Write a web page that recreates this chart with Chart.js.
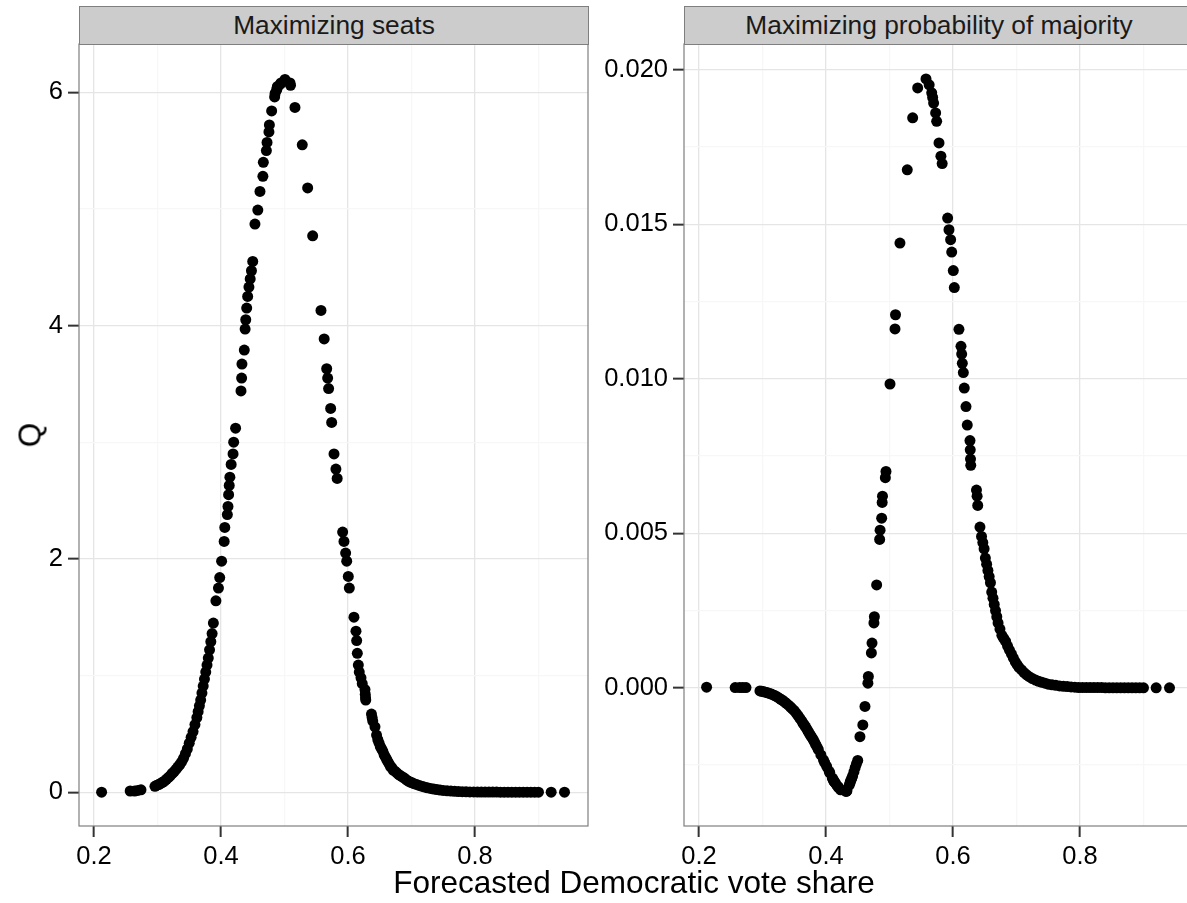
<!DOCTYPE html>
<html><head><meta charset="utf-8">
<script src="https://cdn.jsdelivr.net/npm/chart.js@4.4.1/dist/chart.umd.min.js"></script>
<style>
html,body{margin:0;padding:0;background:#fff;}
#wrap{position:relative;width:1187px;height:903px;overflow:hidden;font-family:"Liberation Sans",Arial,sans-serif;}
canvas{position:absolute;top:0;}
.strip{position:absolute;top:6px;height:39px;background:#cccccc;border:1px solid #7f7f7f;box-sizing:border-box;text-align:center;line-height:36px;font-size:26.3px;color:#1a1a1a;white-space:nowrap;}
#ytitle{position:absolute;left:30px;top:435px;transform:translate(-50%,-50%) rotate(-90deg);font-size:31.5px;color:#000;white-space:nowrap;}
#xtitle{position:absolute;left:634px;top:882px;transform:translate(-50%,-50%);font-size:31.5px;color:#000;white-space:nowrap;}
</style></head>
<body>
<div id="wrap">
<canvas id="c1" width="594" height="903" style="left:0px;width:594px;height:903px"></canvas>
<canvas id="c2" width="605" height="903" style="left:594px;width:605px;height:903px"></canvas>
<div class="strip" style="left:79px;width:510px">Maximizing seats</div>
<div class="strip" style="left:684px;width:510px">Maximizing probability of majority</div>
<div id="ytitle">Q</div>
<div id="xtitle">Forecasted Democratic vote share</div>
</div>
<script>
// ---- data ----
const voteShare = [
0.212,0.257,0.264,0.269,0.274,
0.296,0.299,0.302,0.305,0.308,0.311,0.314,0.317,0.320,0.323,0.326,0.329,0.332,0.335,0.338,0.341,0.344,0.347,0.350,0.353,0.356,0.359,0.362,0.364,0.366,0.368,0.370,0.372,0.374,0.376,0.378,0.380,0.382,0.384,0.386,0.388,
0.392,0.396,0.398,0.401,0.405,0.406,0.410,0.411,0.412,0.413,0.414,0.416,0.419,0.420,0.423,0.4315,0.4325,0.433,0.4367,0.438,0.439,0.4405,0.442,0.444,0.446,0.448,0.450,
0.4535,0.458,0.4614,0.4660,0.4667,0.4715,0.4725,0.4755,0.4762,0.4798,0.4845,0.4852,0.4877,0.4885,0.4890,0.4935,0.4945,0.5008,
0.5087,0.5095,0.5165,0.528,0.5365,0.5444,0.5575,0.5625,0.5665,0.5680,0.5695,0.5727,0.5743,0.578,0.581,0.583,
0.5916,0.5937,0.5963,0.598,0.6005,0.6021,0.6094,0.6126,0.6137,0.6147,0.6163,0.6178,0.6205,0.6225,0.6268,0.6272,0.6276,0.628,0.637,0.638,0.639,0.6425,
0.645,0.647,0.649,0.651,0.653,0.655,0.657,0.659,0.661,0.663,0.665,0.667,0.669,0.671,0.674,0.677,0.680,0.683,0.686,0.689,0.692,0.695,0.698,0.701,0.704,0.708,0.712,0.716,0.720,0.725,0.730,0.735,0.740,0.745,0.750,0.756,0.762,0.768,0.774,0.780,0.786,0.792,
0.798,0.804,0.810,0.816,0.822,0.828,0.834,0.840,0.846,0.852,0.858,0.864,0.870,0.876,0.882,0.888,0.894,0.900,0.920,0.941
];
const qSeats = [
0,0.01,0.01,0.015,0.02,
0.05,0.06,0.065,0.075,0.085,0.095,0.11,0.125,0.14,0.16,0.175,0.195,0.215,0.235,0.26,0.29,0.33,0.37,0.42,0.47,0.52,0.58,0.64,0.69,0.74,0.79,0.85,0.91,0.97,1.03,1.09,1.15,1.22,1.29,1.36,1.45,
1.64,1.75,1.84,1.98,2.15,2.27,2.38,2.45,2.55,2.63,2.70,2.81,2.90,3.00,3.12,3.44,3.55,3.67,3.79,3.97,4.05,4.15,4.25,4.33,4.40,4.47,4.55,
4.87,4.99,5.15,5.28,5.40,5.50,5.57,5.66,5.72,5.84,5.96,5.99,6.02,6.04,6.05,6.07,6.08,6.11,
6.08,6.06,5.87,5.55,5.18,4.77,4.13,3.886,3.63,3.55,3.46,3.29,3.17,2.90,2.77,2.69,
2.23,2.15,2.05,1.98,1.85,1.75,1.50,1.38,1.30,1.19,1.09,1.03,0.98,0.93,0.88,0.84,0.81,0.79,0.67,0.64,0.61,0.56,
0.49,0.45,0.42,0.39,0.37,0.35,0.32,0.30,0.28,0.26,0.24,0.22,0.21,0.19,0.18,0.165,0.15,0.14,0.13,0.12,0.105,0.095,0.087,0.08,0.073,0.066,0.058,0.051,0.045,0.038,0.032,0.027,0.022,0.018,0.015,0.012,0.009,0.007,0.005,0.004,0.003,0.002,
0.002,0.001,0.001,0.001,0.001,0.001,0.001,0,0,0,0,0,0,0,0,0,0,0,0,0
];
const qMajority = [
0.00002,0.00001,0.00001,0.00001,0.00001,
-0.0001,-0.00011,-0.00013,-0.00014,-0.00016,-0.00018,-0.0002,-0.00023,-0.00026,-0.00029,-0.00033,-0.00037,-0.00041,-0.00046,-0.00051,-0.00056,-0.00062,-0.00068,-0.00074,-0.00082,-0.0009,-0.00099,-0.00108,-0.00115,-0.00121,-0.00127,-0.00134,-0.00141,-0.00148,-0.00155,-0.00161,-0.00168,-0.00176,-0.00184,-0.00192,-0.002,
-0.00217,-0.00233,-0.00242,-0.00254,-0.0027,-0.00275,-0.00292,-0.00296,-0.003,-0.00303,-0.00306,-0.00312,-0.0032,-0.00323,-0.0033,-0.00335,-0.00334,-0.00333,-0.00315,-0.00306,-0.003,-0.00293,-0.00285,-0.00272,-0.00258,-0.00246,-0.00235,
-0.00158,-0.0012,-0.0006,0.00015,0.00037,0.00113,0.00145,0.0021,0.0023,0.00333,0.0048,0.0051,0.00549,0.006,0.0062,0.0068,0.007,0.00983,
0.01161,0.01207,0.01439,0.01676,0.01844,0.01941,0.0197,0.01951,0.01925,0.0191,0.01892,0.0186,0.01833,0.01763,0.0172,0.01696,
0.0152,0.01482,0.0145,0.0141,0.0135,0.01295,0.0116,0.01105,0.0108,0.0105,0.0102,0.0097,0.0091,0.0085,0.008,0.0077,0.0074,0.0072,0.0064,0.0062,0.0059,0.0052,
0.0049,0.0047,0.0045,0.0042,0.004,0.0038,0.0036,0.0034,0.0031,0.0029,0.0027,0.0025,0.0023,0.0021,0.0019,0.0017,0.0016,0.0015,0.00135,0.00122,0.0011,0.00097,0.00085,0.00075,0.00066,0.00058,0.00049,0.00042,0.00036,0.0003,0.00025,0.00021,0.00018,0.00015,0.00012,0.0001,0.00008,0.00006,0.00005,0.00004,0.00003,0.00002,
0.00001,0.00001,0.00001,0.00001,0.00001,0.00001,0.00001,0,0,0,0,0,0,0,0,0,0,0,0,0
];
const xMajorTicks = [0.2,0.4,0.6,0.8];
const xMinorTicks = [0.3,0.5,0.7,0.9];
const seatsMajorTicks = [0,2,4,6];
const seatsMinorTicks = [1,3,5];
const majMajorTicks = [0,0.005,0.010,0.015,0.020];
const majMinorTicks = [-0.0025,0.0025,0.0075,0.0125,0.0175];

const FONT = {family:"'Liberation Sans', Arial, sans-serif", size:25.5};
const isIn = (arr,v) => arr.some(a => Math.abs(a-v) < 1e-9);

const borderPlugin = {
  id:'panelBorder',
  afterDatasetsDraw(chart){
    const a = chart.chartArea, ctx = chart.ctx;
    ctx.save();
    ctx.strokeStyle = '#7f7f7f';
    ctx.lineWidth = 1.2;
    ctx.strokeRect(a.left, a.top, a.right-a.left, a.bottom-a.top);
    ctx.restore();
  }
};

function makeChart(id, yVals, yMin, yMax, yMajor, yMinor, yFmt, yAxisW){
  const pts = voteShare.map((x,i)=>({x:x, y:yVals[i]}));
  function axis(major, minor, fmt, pad){
    return {
      afterBuildTicks(scale){
        scale.ticks = major.concat(minor).sort((a,b)=>a-b).map(v=>({value:v}));
      },
      grid:{
        color:(c)=> (c.tick && isIn(major,c.tick.value)) ? '#e5e5e5' : '#f7f7f7',
        lineWidth:1.3,
        tickColor:(c)=> (c.tick && isIn(major,c.tick.value)) ? '#333333' : 'rgba(0,0,0,0)',
        tickWidth:2,
        tickLength:11,
        drawTicks:true
      },
      border:{display:false},
      ticks:{
        autoSkip:false, maxRotation:0, minRotation:0,
        color:'#000', font:FONT, padding:pad,
        callback:(v)=> isIn(major,v) ? fmt(v) : ''
      }
    };
  }
  const xs = axis(xMajorTicks, xMinorTicks, v=>v.toFixed(1), 5);
  xs.type='linear'; xs.min=0.1764; xs.max=0.978; xs.position='bottom';
  xs.afterFit = (s)=>{ s.height = 77; };
  const ys = axis(yMajor, yMinor, yFmt, 5);
  ys.type='linear'; ys.min=yMin; ys.max=yMax; ys.position='left';
  ys.afterFit = (s)=>{ s.width = yAxisW; };
  return new Chart(document.getElementById(id), {
    type:'scatter',
    data:{datasets:[{data:pts, backgroundColor:'#000', borderColor:'#000', borderWidth:0, pointRadius:5.5, pointHoverRadius:5.5}]},
    options:{
      responsive:false, animation:false, devicePixelRatio:1,
      layout:{padding:{top:44,right:6,left:0,bottom:0}},
      plugins:{legend:{display:false}, tooltip:{enabled:false}},
      scales:{x:xs, y:ys}
    },
    plugins:[borderPlugin]
  });
}

makeChart('c1', qSeats, -0.29, 6.414, seatsMajorTicks, seatsMinorTicks, v=>String(Math.round(v)), 79);
makeChart('c2', qMajority, -0.00447, 0.02083, majMajorTicks, majMinorTicks, v=>v.toFixed(3), 90);
</script>
</body></html>
